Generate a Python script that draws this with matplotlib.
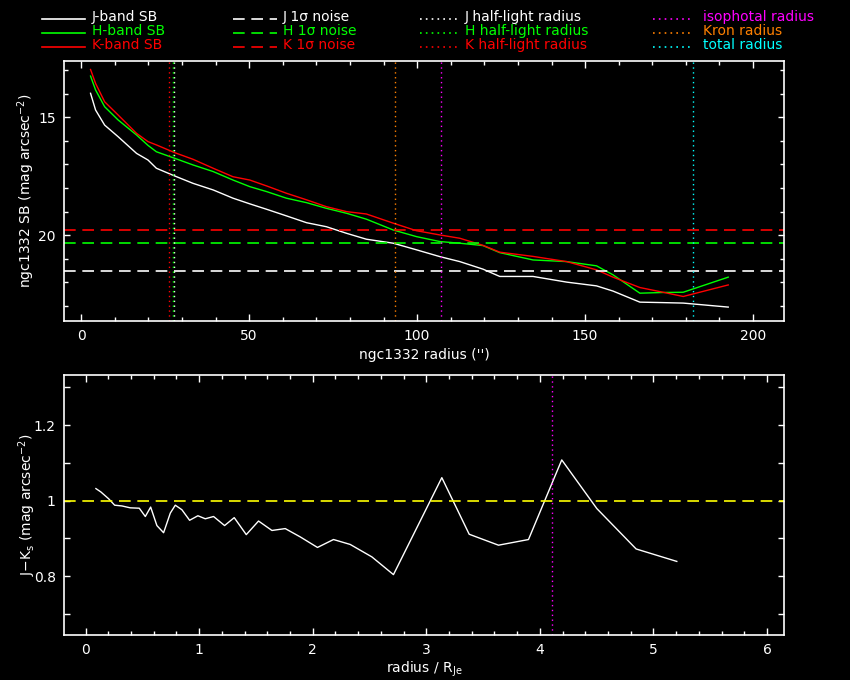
import matplotlib
matplotlib.use("Agg")
import matplotlib.pyplot as plt
from matplotlib.lines import Line2D
from matplotlib.ticker import MultipleLocator, FormatStrFormatter
import numpy as np

# surface brightness profiles (radius in arcsec, mag arcsec^-2)
radius = [2.8, 4.3, 7.0, 11.0, 16.5, 19.9, 22.4, 27.9, 33.3, 39.3, 45.2, 50.2,
          55.2, 61.1, 67.1, 73.0, 79.0, 84.9, 92.9, 99.8, 106.8, 112.7, 119.6,
          124.6, 134.5, 144.5, 153.4, 158.3, 166.3, 173.2, 179.2, 192.6]
sb_j = [13.98, 14.69, 15.33, 15.82, 16.53, 16.81, 17.16, 17.49, 17.80, 18.08,
        18.43, 18.67, 18.90, 19.18, 19.47, 19.64, 19.92, 20.17, 20.34, 20.62,
        20.91, 21.12, 21.44, 21.75, 21.75, 21.99, 22.15, 22.37, 22.84, 22.86,
        22.88, 23.05]
sb_h = [13.25, 13.84, 14.55, 15.11, 15.75, 16.19, 16.46, 16.74, 17.02, 17.30,
        17.66, 17.94, 18.15, 18.43, 18.62, 18.86, 19.07, 19.32, 19.78, 20.06,
        20.27, 20.34, 20.44, 20.74, 21.05, 21.12, 21.30, 21.68, 22.46, 22.43,
        22.42, 21.78]
sb_k = [12.97, 13.56, 14.34, 14.90, 15.68, 16.03, 16.17, 16.50, 16.78, 17.16,
        17.52, 17.66, 17.91, 18.22, 18.50, 18.79, 19.00, 19.10, 19.49, 19.81,
        19.99, 20.13, 20.43, 20.72, 20.90, 21.12, 21.47, 21.78, 22.22, 22.42,
        22.60, 22.11]

# 1 sigma noise levels
noise_j, noise_h, noise_k = 21.5, 20.35, 19.8

# characteristic radii (arcsec)
rhalf_j, rhalf_h, rhalf_k = 27.7, 27.2, 26.2
r_iso, r_kron, r_total = 107.1, 93.5, 182.1

# J-Ks colour profile
color_r = [0.091, 0.135, 0.203, 0.256, 0.320, 0.393, 0.473, 0.526, 0.573, 0.628,
           0.687, 0.746, 0.790, 0.848, 0.916, 0.989, 1.054, 1.127, 1.224, 1.309,
           1.415, 1.523, 1.641, 1.758, 1.890, 2.042, 2.183, 2.330, 2.521, 2.711,
           3.137, 3.378, 3.636, 3.900, 4.193, 4.502, 4.848, 5.206]
color_jk = [1.032, 1.023, 1.005, 0.988, 0.986, 0.981, 0.980, 0.958, 0.983, 0.934,
            0.915, 0.967, 0.988, 0.976, 0.948, 0.960, 0.952, 0.958, 0.934, 0.955,
            0.910, 0.946, 0.921, 0.926, 0.904, 0.876, 0.897, 0.884, 0.851, 0.804,
            1.061, 0.911, 0.882, 0.897, 1.108, 0.979, 0.872, 0.839]
color_ref = 1.0
r_iso_norm = 4.106

WHITE, GREEN, RED = "#ffffff", "#00ff00", "#ff0000"
MAGENTA, ORANGE, CYAN, YELLOW = "#ff00ff", "#ff8000", "#00ffff", "#ffff00"
DASH = (0, (7, 4))
DOT = (0, (1, 2.5))

plt.rcParams['font.family'] = ['DejaVu Sans']
plt.rcParams['mathtext.default'] = 'regular'

fig = plt.figure(figsize=(8.5, 6.8), dpi=100, facecolor="black")
W, H = 850.0, 680.0
ax1 = fig.add_axes([64 / W, 1 - 321 / H, 720 / W, 260 / H])
ax2 = fig.add_axes([64 / W, 1 - 635 / H, 720 / W, 260 / H])


def style_axes(ax):
    ax.set_facecolor("black")
    for s in ax.spines.values():
        s.set_color("white")
        s.set_linewidth(1.2)
    ax.tick_params(which="both", direction="in", colors="white", top=True,
                   right=True, labelsize=10, width=1.0, pad=6)
    ax.tick_params(which="major", length=5)
    ax.tick_params(which="minor", length=3)


# ---- top panel: surface brightness
style_axes(ax1)
ax1.plot(radius, sb_j, color=WHITE, lw=1)
ax1.plot(radius, sb_h, color=GREEN, lw=1)
ax1.plot(radius, sb_k, color=RED, lw=1)
ax1.axhline(noise_j, color=WHITE, ls=DASH, lw=1.2)
ax1.axhline(noise_h, color=GREEN, ls=DASH, lw=1.2)
ax1.axhline(noise_k, color=RED, ls=DASH, lw=1.2)
ax1.axvline(rhalf_j, color=WHITE, ls=DOT, lw=1)
ax1.axvline(rhalf_h, color=GREEN, ls=DOT, lw=1)
ax1.axvline(rhalf_k, color=RED, ls=DOT, lw=1)
ax1.axvline(r_iso, color=MAGENTA, ls=DOT, lw=1)
ax1.axvline(r_kron, color=ORANGE, ls=DOT, lw=1)
ax1.axvline(r_total, color=CYAN, ls=DOT, lw=1)
ax1.set_xlim(-5.1, 209.2)
ax1.set_ylim(23.64, 12.61)
ax1.xaxis.set_major_locator(MultipleLocator(50))
ax1.xaxis.set_minor_locator(MultipleLocator(10))
ax1.yaxis.set_major_locator(MultipleLocator(5))
ax1.yaxis.set_minor_locator(MultipleLocator(1))
ax1.tick_params(axis="y", which="major", length=4)
ax1.set_xlabel("ngc1332 radius ('')", color="white", fontsize=10, labelpad=3)
ax1.set_ylabel(r"ngc1332 SB (mag arcsec$^{-2}$)", color="white", fontsize=10,
               labelpad=1)

# ---- bottom panel: colour profile
style_axes(ax2)
ax2.plot(color_r, color_jk, color=WHITE, lw=1)
ax2.axhline(color_ref, color=YELLOW, ls=DASH, lw=1.2)
ax2.axvline(r_iso_norm, color=MAGENTA, ls=DOT, lw=1)
ax2.set_xlim(-0.19, 6.15)
ax2.set_ylim(0.644, 1.333)
ax2.xaxis.set_major_locator(MultipleLocator(1))
ax2.xaxis.set_minor_locator(MultipleLocator(0.2))
ax2.yaxis.set_major_locator(MultipleLocator(0.2))
ax2.yaxis.set_minor_locator(MultipleLocator(0.1))
ax2.yaxis.set_major_formatter(FormatStrFormatter("%g"))
ax2.tick_params(axis="y", which="both", length=4)
ax2.set_xlabel(r"radius / R$_{Je}$", color="white", fontsize=10, labelpad=2)
ax2.set_ylabel(r"J$-$K$_s$ (mag arcsec$^{-2}$)", color="white", fontsize=10,
               labelpad=-3)

# ---- legend across the top
legend_cols = [
    (42, 85, 92, [("J-band SB", WHITE, "-"), ("H-band SB", GREEN, "-"),
                  ("K-band SB", RED, "-")]),
    (233, 277, 283, [("J 1\u03c3 noise", WHITE, DASH), ("H 1\u03c3 noise", GREEN, DASH),
                     ("K 1\u03c3 noise", RED, DASH)]),
    (420, 457, 465, [("J half-light radius", WHITE, DOT),
                     ("H half-light radius", GREEN, DOT),
                     ("K half-light radius", RED, DOT)]),
    (653, 693, 703, [("isophotal radius", MAGENTA, DOT), ("Kron radius", ORANGE, DOT),
                     ("total radius", CYAN, DOT)]),
]
row_y = [17, 31, 45]
for x0, x1, xt, entries in legend_cols:
    for (label, col, ls), yy in zip(entries, row_y):
        fig.add_artist(Line2D([x0 / W, x1 / W], [1 - (yy + 2) / H] * 2,
                              color=col, ls=ls, lw=1.2,
                              transform=fig.transFigure))
        fig.text(xt / W, 1 - yy / H, label, color=col, fontsize=10,
                 va="center", ha="left")

fig.savefig("out.png", dpi=100, facecolor="black")
